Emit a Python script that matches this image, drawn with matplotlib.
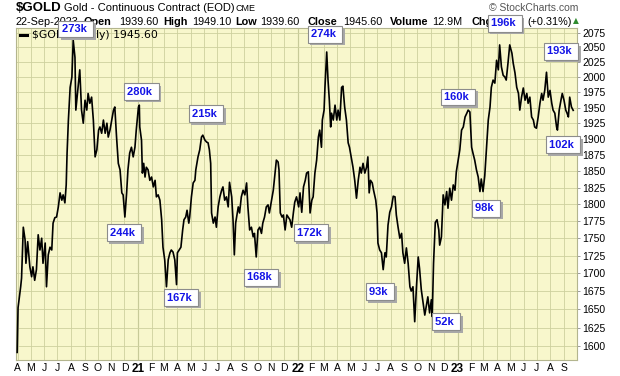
import pandas as pd
import matplotlib
matplotlib.use("Agg")
import matplotlib.pyplot as plt
import matplotlib.patheffects as pe
from matplotlib.lines import Line2D

# closes, (month-day, price) per year
days_2020 = ["03-31", "04-02", "04-08", "04-10", "04-14", "04-18", "04-20", "04-24", "04-29",
             "05-03", "05-06", "05-10", "05-14", "05-18", "05-22", "05-26", "05-29",
             "06-03", "06-06", "06-10", "06-14", "06-18", "06-21", "06-25", "06-29",
             "07-03", "07-07", "07-11", "07-14", "07-18", "07-21", "07-23", "07-26", "07-30",
             "08-03", "08-06", "08-10", "08-12", "08-17", "08-21", "08-25", "08-29",
             "09-02", "09-06", "09-09", "09-13", "09-17", "09-21", "09-25", "09-29",
             "10-03", "10-06", "10-10", "10-14", "10-18", "10-22", "10-25", "10-29",
             "11-02", "11-06", "11-09", "11-13", "11-17", "11-21", "11-25", "11-28",
             "12-02", "12-06", "12-09", "12-13", "12-17", "12-21", "12-25", "12-28"]
close_2020 = [1592, 1652, 1681, 1693, 1766, 1748, 1714, 1745, 1709,
              1695, 1709, 1690, 1705, 1755, 1733, 1750, 1714,
              1743, 1681, 1726, 1737, 1733, 1772, 1780, 1781,
              1796, 1817, 1806, 1814, 1802, 1829, 1878, 1930, 1983,
              2000, 2062, 2033, 1946, 1983, 2012, 1946, 1925,
              1962, 1946, 1973, 1957, 1967, 1930, 1872, 1883,
              1914, 1919, 1909, 1930, 1909, 1925, 1903, 1914,
              1930, 1946, 1951, 1903, 1862, 1852, 1817, 1814,
              1781, 1817, 1852, 1878, 1887, 1872, 1887, 1914]

days_2021 = ["01-02", "01-04", "01-05", "01-09", "01-11", "01-14", "01-17", "01-20", "01-24", "01-28",
             "02-01", "02-05", "02-09", "02-12", "02-16", "02-20", "02-24", "02-27",
             "03-03", "03-07", "03-11", "03-15", "03-18", "03-22", "03-26", "03-30",
             "04-01", "04-05", "04-09", "04-13", "04-16", "04-20", "04-23", "04-27", "04-29",
             "05-03", "05-07", "05-11", "05-13", "05-18", "05-22", "05-26", "05-29",
             "06-03", "06-07", "06-10", "06-13", "06-16", "06-18", "06-22", "06-26", "06-29",
             "07-03", "07-07", "07-11", "07-14", "07-18", "07-22", "07-26", "07-29",
             "08-03", "08-06", "08-09", "08-12", "08-18", "08-21", "08-25", "08-29",
             "09-02", "09-06", "09-09", "09-13", "09-17", "09-21", "09-24", "09-28",
             "10-02", "10-06", "10-10", "10-13", "10-17", "10-21", "10-25", "10-28",
             "11-02", "11-06", "11-09", "11-13", "11-17", "11-19", "11-22", "11-26", "11-29",
             "12-03", "12-07", "12-10", "12-14", "12-18", "12-22", "12-25", "12-29"]
close_2021 = [1951, 1954, 1919, 1898, 1847, 1862, 1841, 1856, 1852, 1836,
              1841, 1826, 1836, 1811, 1814, 1806, 1777, 1737,
              1719, 1681, 1719, 1729, 1733, 1730, 1719, 1684,
              1729, 1733, 1737, 1762, 1777, 1781, 1791, 1772, 1781,
              1811, 1832, 1836, 1852, 1872, 1883, 1903, 1906,
              1898, 1895, 1894, 1883, 1862, 1787, 1772, 1781, 1766,
              1796, 1811, 1821, 1826, 1806, 1811, 1796, 1833,
              1811, 1777, 1726, 1772, 1796, 1787, 1811, 1821,
              1814, 1832, 1796, 1762, 1766, 1752, 1757, 1723,
              1762, 1766, 1757, 1772, 1781, 1796, 1799, 1787,
              1806, 1821, 1841, 1867, 1864, 1852, 1787, 1781, 1784,
              1762, 1784, 1781, 1777, 1766, 1788, 1803, 1811]

days_2022 = ["01-03", "01-06", "01-10", "01-14", "01-18", "01-21", "01-25", "01-29",
             "02-02", "02-05", "02-09", "02-13", "02-17", "02-20", "02-24", "02-26",
             "03-02", "03-04", "03-08", "03-11", "03-14", "03-17", "03-19", "03-23", "03-27", "03-31",
             "04-03", "04-07", "04-11", "04-14", "04-18", "04-22", "04-26", "04-29",
             "05-04", "05-07", "05-11", "05-15", "05-19", "05-23", "05-26", "05-30",
             "06-03", "06-07", "06-10", "06-13", "06-16", "06-20", "06-23", "06-28",
             "07-01", "07-03", "07-07", "07-11", "07-15", "07-19", "07-22", "07-26", "07-30",
             "08-03", "08-07", "08-11", "08-14", "08-18", "08-22", "08-26", "08-29",
             "09-02", "09-06", "09-10", "09-14", "09-17", "09-21", "09-25", "09-29",
             "10-03", "10-06", "10-10", "10-14", "10-18", "10-21", "10-25", "10-29",
             "11-02", "11-04", "11-07", "11-11", "11-15", "11-19", "11-21", "11-25", "11-29",
             "12-03", "12-07", "12-10", "12-14", "12-18", "12-22", "12-26", "12-29"]
close_2022 = [1796, 1817, 1788, 1826, 1836, 1847, 1849, 1787,
              1806, 1811, 1847, 1867, 1903, 1914, 1887, 1930,
              1946, 1983, 2042, 1995, 1962, 1919, 1941, 1930, 1954, 1930,
              1946, 1930, 1983, 1985, 1951, 1930, 1894, 1887,
              1867, 1856, 1836, 1809, 1836, 1856, 1847, 1862,
              1847, 1856, 1872, 1817, 1836, 1832, 1821, 1806,
              1787, 1743, 1733, 1729, 1705, 1729, 1723, 1769, 1788,
              1796, 1812, 1811, 1784, 1766, 1750, 1757, 1729,
              1714, 1736, 1714, 1681, 1675, 1681, 1633, 1681,
              1723, 1707, 1677, 1659, 1642, 1653, 1667, 1645,
              1663, 1640, 1714, 1773, 1777, 1762, 1740, 1752, 1814,
              1799, 1819, 1794, 1824, 1806, 1829, 1821, 1849]

days_2023 = ["01-03", "01-06", "01-10", "01-14", "01-18", "01-22", "01-25", "01-29",
             "02-02", "02-05", "02-09", "02-13", "02-17", "02-21", "02-24", "02-28",
             "03-04", "03-08", "03-12", "03-16", "03-19", "03-23", "03-27", "03-31",
             "04-04", "04-07", "04-11", "04-15", "04-19", "04-22", "04-26", "04-30",
             "05-05", "05-08", "05-12", "05-16", "05-20", "05-23", "05-27", "05-31",
             "06-04", "06-08", "06-11", "06-15", "06-19", "06-23", "06-26", "06-30",
             "07-04", "07-08", "07-12", "07-15", "07-19", "07-23", "07-27", "07-31",
             "08-04", "08-07", "08-11", "08-15", "08-17", "08-21", "08-25", "08-28",
             "09-01", "09-05", "09-08", "09-11", "09-14", "09-18", "09-22"]
close_2023 = [1870, 1883, 1914, 1919, 1935, 1941, 1946, 1943,
              1887, 1878, 1867, 1852, 1841, 1819, 1838, 1819,
              1843, 1887, 1930, 1951, 1983, 1995, 1990, 2028,
              2012, 2054, 2017, 2003, 2000, 1995, 2023, 2054,
              2040, 2023, 2007, 1983, 1973, 1946, 1967, 1982,
              1962, 1973, 1957, 1967, 1935, 1930, 1919, 1917,
              1935, 1957, 1973, 1962, 1978, 2008, 1967, 1978,
              1957, 1946, 1941, 1919, 1914, 1946, 1962, 1973,
              1962, 1946, 1941, 1935, 1967, 1951, 1945.6]

# volume call-outs
ann_labels = ["273k", "280k", "244k", "167k", "215k", "168k", "172k", "274k",
              "93k", "52k", "160k", "98k", "196k", "193k", "102k"]
ann_dates = ["2020-07-11", "2020-12-07", "2020-10-29", "2021-03-08", "2021-05-04",
             "2021-09-07", "2021-12-30", "2022-01-31", "2022-06-13", "2022-11-10",
             "2022-12-01", "2023-02-10", "2023-03-18", "2023-07-24", "2023-07-29"]
ann_prices = [2081, 1976, 1758, 1666, 1940, 1694, 1758, 2072,
              1674, 1633, 1967, 1794, 2091, 2043, 1891]

price_ticks = list(range(1600, 2076, 25))

dates = ([pd.Timestamp("2020-" + d) for d in days_2020] +
         [pd.Timestamp("2021-" + d) for d in days_2021] +
         [pd.Timestamp("2022-" + d) for d in days_2022] +
         [pd.Timestamp("2023-" + d) for d in days_2023])
closes = close_2020 + close_2021 + close_2022 + close_2023

W, H = 620, 376
fig = plt.figure(figsize=(W / 100, H / 100), dpi=100)
fig.patch.set_facecolor("white")
ax = fig.add_axes([16 / W, 16 / H, 561 / W, 332 / H])
ax.set_facecolor("#F8F7CC")

ax.plot(dates, closes, color="black", lw=1.2, zorder=3)

ax.set_yscale("log")
ax.set_ylim(1582, 2083)
ax.set_yticks(price_ticks)
ax.set_yticklabels([str(p) for p in price_ticks])
ax.yaxis.set_minor_locator(matplotlib.ticker.NullLocator())
ax.yaxis.set_minor_formatter(matplotlib.ticker.NullFormatter())
ax.yaxis.tick_right()

ax.set_xlim(pd.Timestamp("2020-03-28 08:00"), pd.Timestamp("2023-09-30 16:00"))
months = pd.date_range("2020-04-01", "2023-09-01", freq="MS")
ax.set_xticks(months)
ax.set_xticklabels([f"{m:%y}" if m.month == 1 else "JFMAMJJASOND"[m.month - 1] for m in months])
for m, lab in zip(months, ax.get_xticklabels()):
    lab.set_family("Liberation Sans")
    if m.month == 1:
        lab.set_fontweight("bold")
        lab.set_fontsize(8.5)
    else:
        lab.set_fontsize(7.5)

ax.grid(True, color="#CDD09E", lw=0.6, zorder=0)
for m in months[months.month == 1]:
    ax.axvline(m, color="#A9AE7C", lw=0.8, zorder=1)

ax.tick_params(axis="x", length=0, pad=2.5)
ax.tick_params(axis="y", length=2.5, width=0.6, color="#8A8A8A", pad=1.5, labelsize=7.5)
for lab in ax.get_yticklabels():
    lab.set_family("Liberation Sans")
for s in ax.spines.values():
    s.set_color("#B3B58E")
    s.set_linewidth(0.8)


def fx(x):
    return x / W


def fy(y):
    return 1 - y / H


# header
fig.text(fx(16), fy(8), "$GOLD", fontsize=9.5, fontweight="bold", family="Liberation Sans", va="center")
fig.text(fx(64), fy(8), "Gold - Continuous Contract (EOD)", fontsize=8, family="Liberation Sans", va="center")
fig.text(fx(236), fy(8.5), "CME", fontsize=6.5, family="Liberation Sans", va="center")
fig.text(fx(578), fy(8), "\u00a9 StockCharts.com", fontsize=7.5, family="Liberation Sans",
         color="#555555", ha="right", va="center")

header2 = [(16, "22-Sep-2023", False), (83, "Open", True), (119, "1939.60", False),
           (163, "High", True), (192, "1949.10", False), (235, "Low", True),
           (260, "1939.60", False), (308, "Close", True), (343, "1945.60", False),
           (390, "Volume", True), (432, "12.9M", False), (471, "Chg", True),
           (494, "+6.00", False), (527, "(+0.31%)", False)]
for x, s, b in header2:
    fig.text(fx(x), fy(22), s, fontsize=7.8, family="Liberation Sans",
             fontweight="bold" if b else "normal", va="center")
fig.text(fx(573), fy(21), "\u25b2", fontsize=5.5, color="#2E8B2E", family="DejaVu Sans", va="center")

# legend
fig.add_artist(Line2D([fx(20), fx(27)], [fy(35), fy(35)], color="black", lw=2.2))
fig.text(fx(32), fy(35), "$GOLD (Daily) 1945.60", fontsize=7.8, family="DejaVu Sans", va="center")

# volume boxes, drop shadow on the box patch itself
for lab, d, p in zip(ann_labels, ann_dates, ann_prices):
    xd = matplotlib.dates.date2num(pd.Timestamp(d))
    t = fig.text(xd, p, lab + " ", transform=ax.transData, fontsize=8, fontweight="bold",
                 family="Liberation Sans", color="#1414E6", ha="left", va="center", zorder=5,
                 bbox=dict(boxstyle="square,pad=0.3", fc="white", ec="#8C8C8C", lw=0.8))
    t.get_bbox_patch().set_path_effects([
        pe.SimplePatchShadow(offset=(1.8, -1.8), shadow_rgbFace="#A8A8A8", alpha=1.0),
        pe.Normal()])

fig.savefig("out.png", dpi=100)
